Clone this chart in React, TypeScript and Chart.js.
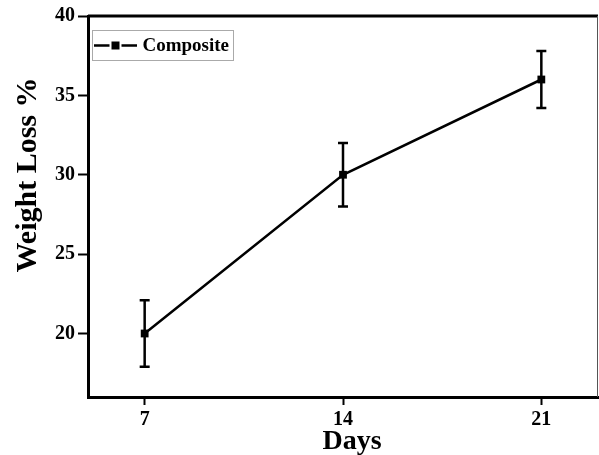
import { useEffect, useRef } from 'react';
import { Chart, registerables } from 'chart.js';

Chart.register(...registerables);

const days = [7, 14, 21];
const weightLoss = [20, 30, 36];
const errors = [2.1, 2, 1.8];
const xTicks = [7, 14, 21];
const yTicks = [20, 25, 30, 35, 40];
const seriesLabel = 'Composite';
const xTitle = 'Days';
const yTitle = 'Weight Loss %';

const FONT = '"Liberation Serif", "Times New Roman", serif';

const decorPlugin = {
  id: 'decor',
  afterDatasetsDraw(chart: any) {
    const { ctx, scales } = chart;
    const xs = scales.x;
    const ys = scales.y;
    ctx.save();
    ctx.strokeStyle = '#000';
    ctx.lineWidth = 2.5;
    days.forEach((d, i) => {
      const px = xs.getPixelForValue(d);
      const top = ys.getPixelForValue(weightLoss[i] + errors[i]);
      const bot = ys.getPixelForValue(weightLoss[i] - errors[i]);
      ctx.beginPath();
      ctx.moveTo(px, top);
      ctx.lineTo(px, bot);
      ctx.moveTo(px - 5, top);
      ctx.lineTo(px + 5, top);
      ctx.moveTo(px - 5, bot);
      ctx.lineTo(px + 5, bot);
      ctx.stroke();
    });
    ctx.restore();
  },
  afterDraw(chart: any) {
    const { ctx, chartArea } = chart;
    const { left, right, top } = chartArea;
    ctx.save();
    ctx.strokeStyle = '#000';
    ctx.lineWidth = 3;
    ctx.beginPath();
    ctx.moveTo(left, top);
    ctx.lineTo(right, top);
    ctx.stroke();
    ctx.strokeStyle = '#555';
    ctx.lineWidth = 1;
    ctx.beginPath();
    ctx.moveTo(right - 0.5, top);
    ctx.lineTo(right - 0.5, chartArea.bottom);
    ctx.stroke();

    const lx = left + 4.5;
    const ly = top + 14.5;
    ctx.strokeStyle = '#aaa';
    ctx.lineWidth = 1;
    ctx.strokeRect(lx, ly, 141, 30);
    const cy = ly + 15;
    ctx.strokeStyle = '#000';
    ctx.lineWidth = 2.5;
    ctx.beginPath();
    ctx.moveTo(lx + 1.5, cy);
    ctx.lineTo(lx + 17, cy);
    ctx.moveTo(lx + 29, cy);
    ctx.lineTo(lx + 44.5, cy);
    ctx.stroke();
    ctx.fillStyle = '#000';
    ctx.fillRect(lx + 19, cy - 4, 8, 8);
    ctx.font = `bold 19px ${FONT}`;
    ctx.textAlign = 'left';
    ctx.textBaseline = 'middle';
    ctx.fillText(chart.data.datasets[0].label, lx + 50, cy + 1);

    ctx.font = `bold 28px ${FONT}`;
    ctx.textAlign = 'center';
    ctx.textBaseline = 'alphabetic';
    ctx.fillText(xTitle, 352, 449);

    ctx.font = `bold 30px ${FONT}`;
    ctx.translate(36, 175);
    ctx.rotate(-Math.PI / 2);
    ctx.fillText(yTitle, 0, 0);
    ctx.restore();
  },
};

export default function App() {
  const canvasRef = useRef<HTMLCanvasElement | null>(null);

  useEffect(() => {
    const canvas = canvasRef.current;
    if (!canvas) return;
    const tickFont = { family: FONT, size: 20, weight: 'bold' as const };
    const chart = new Chart(canvas, {
      type: 'line',
      data: {
        datasets: [
          {
            label: seriesLabel,
            data: days.map((d, i) => ({ x: d, y: weightLoss[i] })),
            borderColor: '#000',
            backgroundColor: '#000',
            borderWidth: 2.5,
            pointStyle: 'rect',
            pointRadius: 5.5,
            pointBorderWidth: 0,
            pointBackgroundColor: '#000',
            tension: 0,
            clip: false,
          },
        ],
      },
      options: {
        responsive: false,
        animation: false,
        devicePixelRatio: 1,
        layout: { autoPadding: false, padding: { top: 16, right: 1, left: 0, bottom: 0 } },
        plugins: {
          legend: { display: false },
          tooltip: { enabled: false },
          title: { display: false },
        },
        scales: {
          x: {
            type: 'linear',
            min: 5,
            max: 23,
            afterFit: (s: any) => {
              s.height = 58;
              s.paddingLeft = 0;
              s.paddingRight = 0;
            },
            afterBuildTicks: (s: any) => {
              s.ticks = xTicks.map((v) => ({ value: v }));
            },
            ticks: { color: '#000', font: tickFont, padding: 3, maxRotation: 0 },
            grid: {
              display: true,
              drawOnChartArea: false,
              drawTicks: true,
              tickLength: 8,
              tickWidth: 2,
              tickColor: '#000',
            },
            border: { display: true, color: '#000', width: 3 },
          },
          y: {
            type: 'linear',
            min: 16,
            max: 40,
            afterFit: (s: any) => {
              s.width = 88;
              s.paddingTop = 0;
              s.paddingBottom = 0;
            },
            afterBuildTicks: (s: any) => {
              s.ticks = yTicks.map((v) => ({ value: v }));
            },
            ticks: { color: '#000', font: tickFont, padding: 3 },
            grid: {
              display: true,
              drawOnChartArea: false,
              drawTicks: true,
              tickLength: 10,
              tickWidth: 2,
              tickColor: '#000',
            },
            border: { display: true, color: '#000', width: 3 },
          },
        },
      },
      plugins: [decorPlugin],
    });
    return () => chart.destroy();
  }, []);

  return (
    <div style={{ position: 'absolute', left: 0, top: 0, width: 599, height: 455, background: '#fff' }}>
      <canvas ref={canvasRef} width={599} height={455} />
    </div>
  );
}
